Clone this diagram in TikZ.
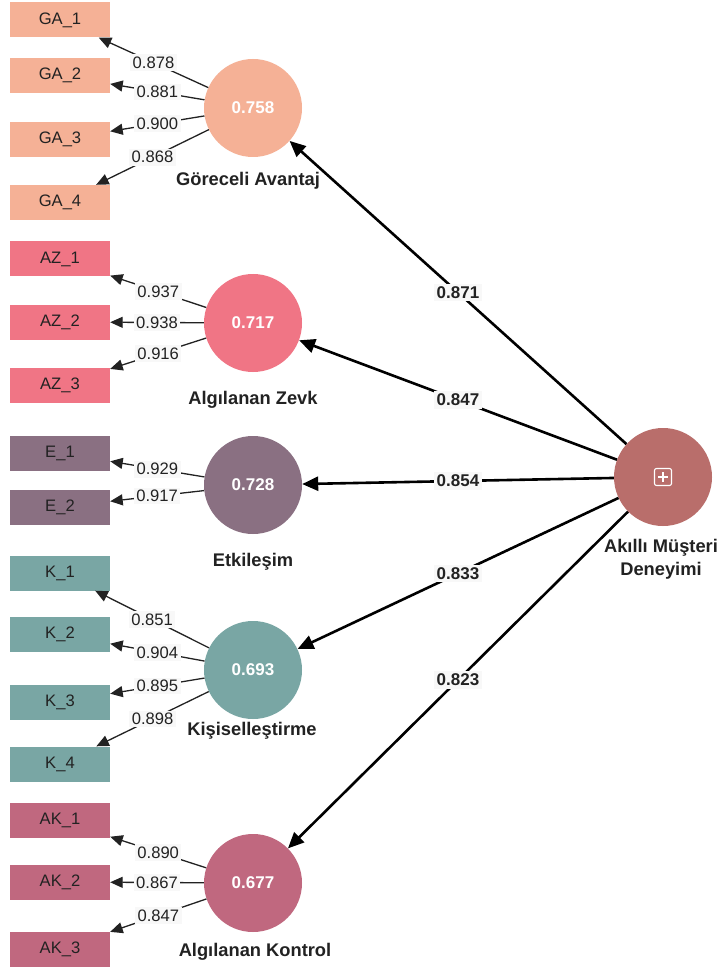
\documentclass[tikz,border=0pt]{standalone}
\usepackage{fontspec}
\setmainfont{Liberation Sans}
\usetikzlibrary{arrows.meta}
\definecolor{cGA}{HTML}{F5B196}
\definecolor{cAZ}{HTML}{F07585}
\definecolor{cE}{HTML}{8A7082}
\definecolor{cK}{HTML}{79A6A4}
\definecolor{cAK}{HTML}{C0687F}
\definecolor{cAMD}{HTML}{B96E6B}
\definecolor{labelbg}{HTML}{F8F8F8}
\definecolor{txt}{HTML}{222222}
\begin{document}
\begin{tikzpicture}[x=1pt,y=-1pt,
 ind/.style={rectangle, minimum width=100pt, minimum height=35pt, inner sep=0pt, font=\fontsize{16.6}{19}\selectfont, text=txt},
 lv/.style={circle, minimum size=98pt, inner sep=0pt, text=white, font=\fontsize{17}{20}\selectfont\bfseries},
 lvname/.style={font=\fontsize{18.3}{23}\selectfont\bfseries, text=txt, align=center},
 load/.style={-{Triangle[length=12.5pt,width=11pt]}, line width=1.3pt, draw=txt},
 struct/.style={-{Triangle[length=16pt,width=14pt]}, line width=2.6pt, draw=black},
 lbl/.style={fill=labelbg, inner sep=2.5pt, font=\fontsize{16.6}{19}\selectfont, text=txt},
 plbl/.style={fill=labelbg, inner sep=2.5pt, font=\fontsize{17}{20}\selectfont\bfseries, text=txt}]
\useasboundingbox[fill=white] (0,0) rectangle (721,973);

% indicators
\node[ind, fill=cGA] (GA1) at (60,20) {GA\_1};
\node[ind, fill=cGA] (GA2) at (60,75.5) {GA\_2};
\node[ind, fill=cGA] (GA3) at (60,139.5) {GA\_3};
\node[ind, fill=cGA] (GA4) at (60,202.5) {GA\_4};
\node[ind, fill=cAZ] (AZ1) at (60,259) {AZ\_1};
\node[ind, fill=cAZ] (AZ2) at (60,322) {AZ\_2};
\node[ind, fill=cAZ] (AZ3) at (60,385) {AZ\_3};
\node[ind, fill=cE] (E1) at (60,453) {E\_1};
\node[ind, fill=cE] (E2) at (60,507) {E\_2};
\node[ind, fill=cK] (K1) at (60,573) {K\_1};
\node[ind, fill=cK] (K2) at (60,634.5) {K\_2};
\node[ind, fill=cK] (K3) at (60,702) {K\_3};
\node[ind, fill=cK] (K4) at (60,764) {K\_4};
\node[ind, fill=cAK] (AK1) at (60,820.5) {AK\_1};
\node[ind, fill=cAK] (AK2) at (60,882) {AK\_2};
\node[ind, fill=cAK] (AK3) at (60,949) {AK\_3};

% latent variables
\node[lv, fill=cGA] (GA) at (253,108) {0.758};
\node[lv, fill=cAZ] (AZ) at (253,323) {0.717};
\node[lv, fill=cE] (E) at (253,485) {0.728};
\node[lv, fill=cK] (K) at (253,670) {0.693};
\node[lv, fill=cAK] (AK) at (253,883) {0.677};
\node[lv, fill=cAMD] (AMD) at (663,477) {};
\draw[white, line width=1.1pt, rounded corners=2pt] (AMD.center) ++(-8.5,-8.5) rectangle ++(17,17);
\draw[white, line width=1.1pt] (AMD.center) ++(-5,0) -- ++(10,0);
\draw[white, line width=1.1pt] (AMD.center) ++(0,-5) -- ++(0,10);

% names
\node[lvname] (nGA) at (248,181) {Göreceli Avantaj};
\node[lvname] (nAZ) at (253,400) {Algılanan Zevk};
\node[lvname] (nE) at (253,562) {Etkileşim};
\node[lvname] (nK) at (252,731) {Kişiselleştirme};
\node[lvname] (nAK) at (255,952) {Algılanan Kontrol};
\node[lvname] (nAMD) at (661,559) {Akıllı Müşteri\\Deneyimi};

% loadings
\draw[load] (GA) -- (GA1) node[lbl, pos=0.5] {0.878};
\draw[load] (GA) -- (GA2) node[lbl, pos=0.5] {0.881};
\draw[load] (GA) -- (GA3) node[lbl, pos=0.5] {0.900};
\draw[load] (GA) -- (GA4) node[lbl, pos=0.5] {0.868};
\draw[load] (AZ) -- (AZ1) node[lbl, pos=0.5] {0.937};
\draw[load] (AZ) -- (AZ2) node[lbl, pos=0.5] {0.938};
\draw[load] (AZ) -- (AZ3) node[lbl, pos=0.5] {0.916};
\draw[load] (E) -- (E1) node[lbl, pos=0.5] {0.929};
\draw[load] (E) -- (E2) node[lbl, pos=0.5] {0.917};
\draw[load] (K) -- (K1) node[lbl, pos=0.5] {0.851};
\draw[load] (K) -- (K2) node[lbl, pos=0.5] {0.904};
\draw[load] (K) -- (K3) node[lbl, pos=0.5] {0.895};
\draw[load] (K) -- (K4) node[lbl, pos=0.5] {0.898};
\draw[load] (AK) -- (AK1) node[lbl, pos=0.5] {0.890};
\draw[load] (AK) -- (AK2) node[lbl, pos=0.5] {0.867};
\draw[load] (AK) -- (AK3) node[lbl, pos=0.5] {0.847};

% structural paths
\draw[struct] (AMD) -- (GA) node[plbl, pos=0.5] {0.871};
\draw[struct] (AMD) -- (AZ) node[plbl, pos=0.5] {0.847};
\draw[struct] (AMD) -- (E) node[plbl, pos=0.5] {0.854};
\draw[struct] (AMD) -- (K) node[plbl, pos=0.5] {0.833};
\draw[struct] (AMD) -- (AK) node[plbl, pos=0.5] {0.823};
\end{tikzpicture}
\end{document}
